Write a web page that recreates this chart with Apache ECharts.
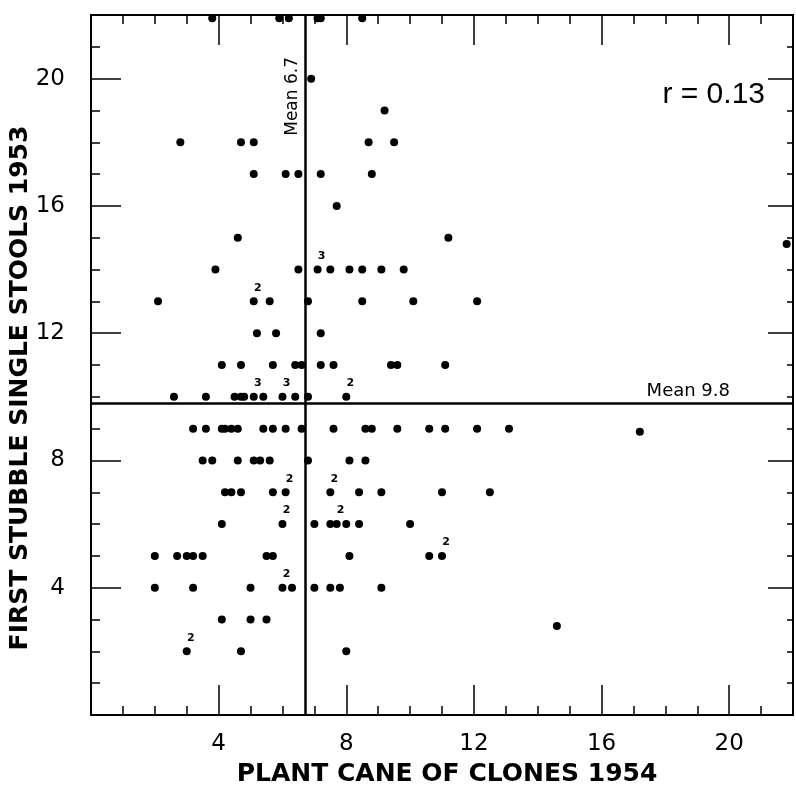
<!DOCTYPE html>
<html>
<head>
<meta charset="utf-8">
<script src="https://cdn.jsdelivr.net/npm/echarts@6/dist/echarts.min.js"></script>
<style>
  html, body { margin: 0; padding: 0; background: #fff; }
  #root { width: 796px; height: 792px; }
</style>
</head>
<body>
<div id="root"></div>
<script>
// x values (plant cane 1954) for each y value (first stubble 1953)
var rowTop = [3.8, 5.9, 6.2, 7.1, 7.2, 8.5]   // sitting on the top border
var row20 = [6.9]
var row19 = [9.2]
var row18 = [2.8, 4.7, 5.1, 8.7, 9.5]
var row17 = [5.1, 6.1, 6.5, 7.2, 8.8]
var row16 = [7.7]
var row15 = [4.6, 11.2]
var row14 = [3.9, 6.5, 7.1, 7.5, 8.1, 8.5, 9.1, 9.8]
var row13 = [2.1, 5.1, 5.6, 6.8, 8.5, 10.1, 12.1]
var row12 = [5.2, 5.8, 7.2]
var row11 = [4.1, 4.7, 5.7, 6.4, 6.6, 7.2, 7.6, 9.4, 9.6, 11.1]
var row10 = [2.6, 3.6, 4.5, 4.7, 4.8, 5.1, 5.4, 6.0, 6.4, 6.8, 8.0]
var row9 = [3.2, 3.6, 4.1, 4.2, 4.4, 4.6, 5.4, 5.7, 6.1, 6.6, 7.6, 8.6, 8.8, 9.6, 10.6, 11.1, 12.1, 13.1]
var row8 = [3.5, 3.8, 4.6, 5.1, 5.3, 5.6, 6.8, 8.1, 8.6]
var row7 = [4.2, 4.4, 4.7, 5.7, 6.1, 7.5, 8.4, 9.1, 11.0, 12.5]
var row6 = [4.1, 6.0, 7.0, 7.5, 7.7, 8.0, 8.4, 10.0]
var row5 = [2.0, 2.7, 3.0, 3.2, 3.5, 5.5, 5.7, 8.1, 10.6, 11.0]
var row4 = [2.0, 3.2, 5.0, 6.0, 6.3, 7.0, 7.5, 7.8, 9.1]
var row3 = [4.1, 5.0, 5.5]
var row2 = [3.0, 4.7, 8.0]
var strays = [[21.8, 14.8], [17.2, 8.9], [14.6, 2.8]]

// points standing for more than one clone: [x, y, count]
var repeats = [[7.1, 14, 3], [5.1, 13, 2], [5.1, 10, 3], [6.0, 10, 3], [8.0, 10, 2],
  [6.1, 7, 2], [7.5, 7, 2], [6.0, 6, 2], [7.7, 6, 2], [11.0, 5, 2], [6.0, 4, 2], [3.0, 2, 2]]

var meanX = 6.7
var meanY = 9.8
var rValue = 'r = 0.13'
var majorTicks = [4, 8, 12, 16, 20]

var rows = [[21.9, rowTop], [20, row20], [19, row19], [18, row18], [17, row17], [16, row16],
  [15, row15], [14, row14], [13, row13], [12, row12], [11, row11], [10, row10], [9, row9],
  [8, row8], [7, row7], [6, row6], [5, row5], [4, row4], [3, row3], [2, row2]]

var data = []
rows.forEach(function (r) {
  r[1].forEach(function (x) {
    var item = { value: [x, r[0]] }
    repeats.forEach(function (m) {
      if (m[0] === x && m[1] === r[0]) {
        item.label = { show: true, formatter: String(m[2]) }
      }
    })
    data.push(item)
  })
})
strays.forEach(function (p) { data.push({ value: p }) })

var font = 'DejaVu Sans'

function axisPair (dim, pos, majorLen, minorLen, withLabels) {
  var base = {
    type: 'value', min: 0, max: 22, position: pos,
    splitLine: { show: false }
  }
  var major = Object.assign({}, base, {
    interval: 4,
    axisLine: { show: true, onZero: false, lineStyle: { color: '#000', width: 2 } },
    axisTick: { show: true, inside: true, length: majorLen, lineStyle: { color: '#000', width: 1.5 } },
    axisLabel: {
      show: withLabels, color: '#000', fontFamily: font, fontSize: 23,
      margin: dim === 'x' ? 18 : 26,
      formatter: function (v) { return majorTicks.indexOf(v) >= 0 ? String(v) : '' }
    }
  })
  var minor = Object.assign({}, base, {
    interval: 1,
    axisLine: { show: false, onZero: false },
    axisTick: { show: true, inside: true, length: minorLen, lineStyle: { color: '#000', width: 1.5 } },
    axisLabel: { show: false }
  })
  return [major, minor]
}

var xAxes = axisPair('x', 'bottom', 30, 9, true).concat(axisPair('x', 'top', 30, 9, false))
var yAxes = axisPair('y', 'left', 30, 9, true).concat(axisPair('y', 'right', 25, 6, false))

xAxes[0].name = 'PLANT CANE OF CLONES 1954'
xAxes[0].nameLocation = 'middle'
xAxes[0].nameGap = 47
xAxes[0].nameTextStyle = { color: '#000', fontFamily: font, fontWeight: 'bold', fontSize: 25, padding: [0, 0, 0, 10] }

var chart = echarts.init(document.getElementById('root'))
var option = {
  backgroundColor: '#fff',
  animation: false,
  grid: { left: 91, top: 15, width: 704, height: 704, containLabel: false },
  xAxis: xAxes,
  yAxis: yAxes,
  graphic: [{
    type: 'text', right: 31, top: 80,
    style: { text: rValue, fill: '#000', font: '30px "Liberation Sans"' }
  }, {
    type: 'text', x: 20, y: 388, rotation: Math.PI / 2,
    style: {
      text: 'FIRST STUBBLE SINGLE STOOLS 1953', fill: '#000', align: 'center', verticalAlign: 'middle',
      font: 'bold 25px "DejaVu Sans"'
    }
  }],
  series: [{
    type: 'scatter',
    xAxisIndex: 0, yAxisIndex: 0,
    symbol: 'circle', symbolSize: 8,
    clip: false,
    itemStyle: { color: '#000', opacity: 1 },
    label: {
      show: false, position: 'top', offset: [4, 1],
      color: '#000', fontFamily: font, fontSize: 11, fontWeight: 'bold'
    },
    data: data,
    markLine: {
      silent: true, symbol: 'none', animation: false,
      lineStyle: { color: '#000', width: 2.5, type: 'solid' },
      data: [
        { xAxis: meanX, label: { show: true, formatter: 'Mean ' + meanX, position: 'insideEndTop',
          color: '#000', fontFamily: font, fontSize: 17, distance: 4, padding: [0, 38, 0, 0] } },
        { yAxis: meanY, label: { show: true, formatter: 'Mean ' + meanY, position: 'insideEndTop',
          color: '#000', fontFamily: font, fontSize: 18, distance: 3, padding: [0, 60, 0, 0] } }
      ]
    }
  }]
}
chart.setOption(option)
</script>
</body>
</html>
